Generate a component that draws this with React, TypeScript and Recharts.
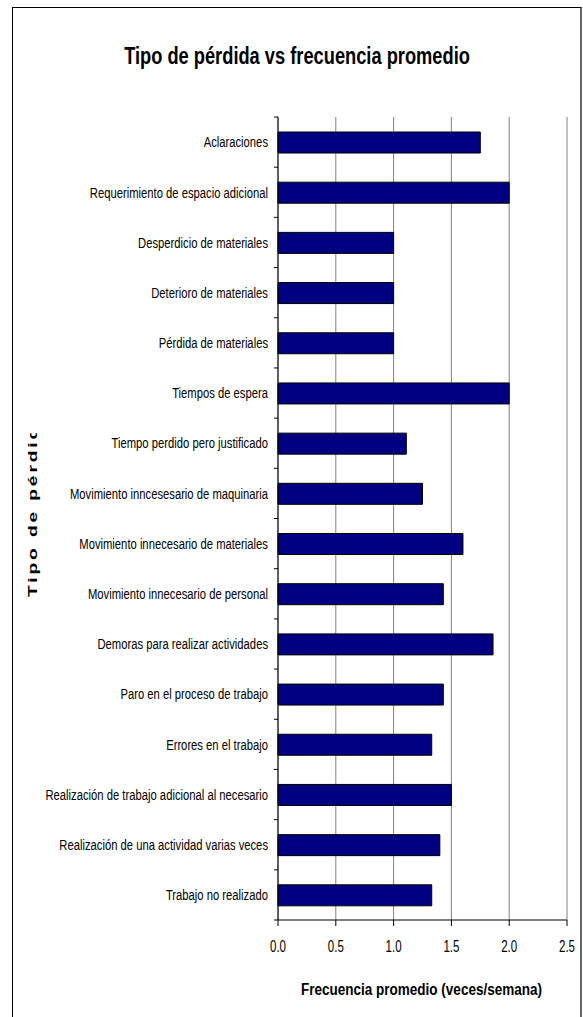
import React from "react";
import { BarChart, Bar, XAxis, YAxis, CartesianGrid, Label } from "recharts";

const categories = [
  "Aclaraciones",
  "Requerimiento de espacio adicional",
  "Desperdicio de materiales",
  "Deterioro de materiales",
  "Pérdida de materiales",
  "Tiempos de espera",
  "Tiempo perdido pero justificado",
  "Movimiento inncesesario de maquinaria",
  "Movimiento innecesario de materiales",
  "Movimiento innecesario de personal",
  "Demoras para realizar actividades",
  "Paro en el proceso de trabajo",
  "Errores en el trabajo",
  "Realización de trabajo adicional al necesario",
  "Realización de una actividad varias veces",
  "Trabajo no realizado",
];
const values = [1.75, 2.0, 1.0, 1.0, 1.0, 2.0, 1.11, 1.25, 1.6, 1.43, 1.86, 1.43, 1.33, 1.5, 1.4, 1.33];
const xTicks = [0, 0.5, 1.0, 1.5, 2.0, 2.5];

const title = "Tipo de pérdida vs frecuencia promedio";
const xLabel = "Frecuencia promedio (veces/semana)";
const yLabel = "Tipo de pérdida";

const data = categories.map((name, i) => ({ name, value: values[i] }));

const FONT = "'Liberation Sans', Arial, sans-serif";

const CatTick = (props: any) => {
  const { x, y, payload, index } = props;
  const half = payload && payload.offset ? payload.offset : 25.1;
  return (
    <g>
      <text
        transform={`translate(${x - 2},${y}) scale(0.75,1)`}
        dy="0.35em"
        textAnchor="end"
        fontFamily={FONT}
        fontSize={15}
        fill="#000"
      >
        {payload.value}
      </text>
      <line x1={x + 4} x2={x + 8} y1={y + half} y2={y + half} stroke="#000" />
      {index === 0 ? <line x1={x + 4} x2={x + 8} y1={y - half} y2={y - half} stroke="#000" /> : null}
    </g>
  );
};

const XTick = (props: any) => {
  const { x, y, payload } = props;
  return (
    <text
      transform={`translate(${x},${y}) scale(0.72,1)`}
      dy="0.71em"
      textAnchor="middle"
      fontFamily={FONT}
      fontSize={16}
      fill="#000"
    >
      {Number(payload.value).toFixed(1)}
    </text>
  );
};

const XLabelContent = (props: any) => {
  const vb = props.viewBox || { x: 278, y: 920, width: 289, height: 97 };
  const cx = vb.x + vb.width / 2 - 1;
  const by = vb.y + vb.height - 22;
  return (
    <text
      transform={`translate(${cx},${by}) scale(0.795,1)`}
      textAnchor="middle"
      fontFamily={FONT}
      fontWeight="bold"
      fontSize={17}
      fill="#000"
    >
      {xLabel}
    </text>
  );
};

const YLabelContent = () => (
  <g>
    <defs>
      <clipPath id="ylabelclip">
        <rect x={0} y={433} width={120} height={600} />
      </clipPath>
    </defs>
    <g clipPath="url(#ylabelclip)">
      <text
        transform="translate(36.7,597) rotate(-90) scale(1.6,1)"
        fontFamily={FONT}
        fontWeight="bold"
        fontSize={12}
        letterSpacing={1.8}
        fill="#000"
      >
        {yLabel}
      </text>
    </g>
  </g>
);

export default function App() {
  return (
    <div style={{ position: "absolute", left: 0, top: 0, width: 583, height: 1017, overflow: "hidden", background: "#fff" }}>
      <div
        style={{
          position: "absolute",
          left: 12,
          top: 7,
          width: 567,
          height: 1030,
          borderTop: "1px solid #000",
          borderLeft: "1px solid #000",
          borderRight: "2px solid #666",
        }}
      />
      <div
        style={{
          position: "absolute",
          left: 0,
          width: 594,
          top: 42,
          textAlign: "center",
          fontFamily: FONT,
          fontWeight: "bold",
          fontSize: 23,
          lineHeight: "29px",
          color: "#000",
          transform: "scaleX(0.794)",
          transformOrigin: "297px 0",
          whiteSpace: "nowrap",
        }}
      >
        {title}
      </div>
      <div style={{ position: "absolute", left: 0, top: 0 }}>
        <BarChart
          width={583}
          height={1017}
          data={data}
          layout="vertical"
          margin={{ top: 117, right: 16, bottom: 0, left: 0 }}
          barSize={21}
        >
          <CartesianGrid horizontal={false} stroke="#808080" strokeWidth={1} />
          <XAxis
            xAxisId="top"
            orientation="top"
            type="number"
            domain={[0, 2.5]}
            ticks={xTicks}
            tick={false}
            tickLine={false}
            height={0}
            axisLine={{ stroke: "#808080" }}
          />
          <XAxis
            type="number"
            domain={[0, 2.5]}
            ticks={xTicks}
            tick={<XTick />}
            tickSize={6}
            tickMargin={15}
            tickLine={{ stroke: "#000" }}
            axisLine={{ stroke: "#000" }}
            height={97}
            interval={0}
          >
            <Label content={<XLabelContent />} />
          </XAxis>
          <YAxis
            type="category"
            dataKey="name"
            width={278}
            tick={<CatTick />}
            tickLine={false}
            axisLine={{ stroke: "#000" }}
            interval={0}
          >
            <Label content={<YLabelContent />} />
          </YAxis>
          <Bar dataKey="value" fill="#000080" stroke="#000" strokeWidth={1} isAnimationActive={false} />
        </BarChart>
      </div>
    </div>
  );
}
